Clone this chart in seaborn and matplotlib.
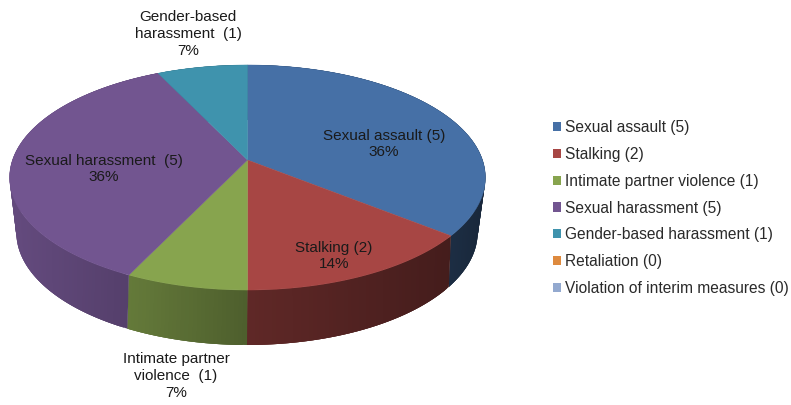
import numpy as np
import matplotlib
matplotlib.use("Agg")
import matplotlib.pyplot as plt
from matplotlib.patches import Patch
import seaborn as sns

categories = ["Sexual assault", "Stalking", "Intimate partner violence", "Sexual harassment",
              "Gender-based harassment", "Retaliation", "Violation of interim measures"]
counts = [5, 2, 1, 5, 1, 0, 0]
colors = ["#4670A6", "#A74644", "#87A44E", "#725590", "#3F93AD", "#DE8A3E", "#93A9CF"]
label_text = ["Sexual assault (5)", "Stalking (2)", "Intimate partner\nviolence  (1)",
              "Sexual harassment  (5)", "Gender-based\nharassment  (1)", None, None]
label_xy = [(384, 144), (334, 256), (176, 376), (104, 169), (188, 34), None, None]

sns.set_theme(style="white")
plt.rcParams["font.family"] = ["Liberation Sans", "DejaVu Sans"]

fig = plt.figure(figsize=(7.91, 4.05), dpi=100)
ax = fig.add_axes([0, 0, 1, 1])
ax.set_xlim(0, 791)
ax.set_ylim(405, 0)
ax.axis("off")

APEX = (247.5, 160)


def top_disc(t):
    u, v = np.sin(t), -np.cos(t)
    d = 1 - 0.1556 * v
    return APEX[0] + 235 * u / d, APEX[1] + 109.8 * v / d


def base_disc(t):
    u, v = np.sin(t), -np.cos(t)
    d = 1 - 0.2 * v
    return 247 + 226 * u / d, 210 + 108 * v / d


def shade(hex_color, x):
    f = np.interp(x, [15, 130, 247, 447, 480], [0.87, 0.74, 0.57, 0.41, 0.36])
    return tuple(np.array(matplotlib.colors.to_rgb(hex_color)) * f)


total = sum(counts)
edges = 2 * np.pi * np.cumsum([0] + counts) / total

# side wall: overlapping strips, so no seams show between neighbouring strips
for i, c in enumerate(colors):
    if counts[i] == 0:
        continue
    ts = np.linspace(edges[i], edges[i + 1], counts[i] * 30 + 1)
    step = ts[1] - ts[0]
    for a in ts[:-1]:
        b = min(a + 3 * step, edges[i + 1])
        xa, ya = top_disc(a)
        xb, yb = top_disc(b)
        xc, yc = base_disc(b)
        xd, yd = base_disc(a)
        ax.fill([xa, xb, xc, xd], [ya, yb, yc, yd], color=shade(c, (xa + xb) / 2), lw=0, zorder=1)

# top face
for i, c in enumerate(colors):
    if counts[i] == 0:
        continue
    ts = np.linspace(edges[i], edges[i + 1], 120)
    xs, ys = top_disc(ts)
    ax.fill(np.r_[APEX[0], xs], np.r_[APEX[1], ys], color=c, lw=0.3, zorder=3)

# data labels
for txt, xy, n in zip(label_text, label_xy, counts):
    if txt is None:
        continue
    ax.text(xy[0], xy[1], f"{txt}\n{n / total:.0%}", ha="center", va="center",
            fontsize=11.0, color="#1A1A1A", linespacing=1.27, zorder=5)

# legend
handles = [Patch(facecolor=c, edgecolor="none") for c in colors]
labels = [f"{c} ({n})" for c, n in zip(categories, counts)]
ax.legend(handles, labels, loc="center left", bbox_to_anchor=(553 / 791, 1 - 208 / 405),
          frameon=False, fontsize=11.2, handlelength=0.52, handleheight=0.52,
          handletextpad=0.25, labelspacing=0.755, borderpad=0, borderaxespad=0,
          labelcolor="#2A2A2A")

fig.savefig("out.png", dpi=100)
